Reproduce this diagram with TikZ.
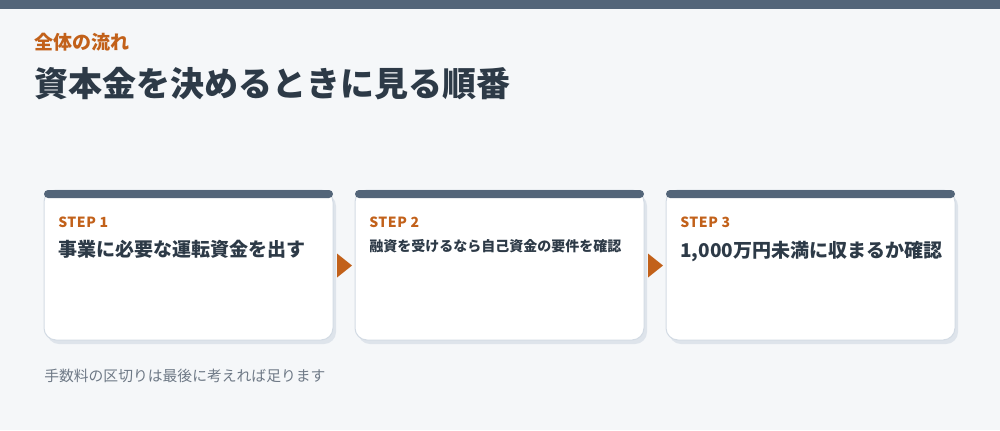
\documentclass[tikz,border=0pt]{standalone}
\usepackage{fontspec}
\setmainfont{Noto Sans CJK JP}
\newfontfamily\steplabelfont[LetterSpace=4]{Noto Sans CJK JP}
\usetikzlibrary{calc}
\definecolor{bgc}{HTML}{F5F7F9}
\definecolor{barc}{HTML}{536579}
\definecolor{orangec}{HTML}{C2611A}
\definecolor{inkc}{HTML}{2D3A47}
\definecolor{mutedc}{HTML}{6E7986}
\definecolor{linec}{HTML}{D3DBE4}
\definecolor{shadowc}{HTML}{DEE4EB}
\begin{document}
\begin{tikzpicture}[x=0.75pt,y=-0.75pt,
  cardbody/.style={draw=linec, line width=0.75pt, fill=white, rounded corners=9pt,
    minimum width=216.75pt, minimum height=112.5pt, inner sep=0pt, outer sep=0pt},
  cardshadow/.style={fill=shadowc, rounded corners=9pt,
    minimum width=216.75pt, minimum height=112.5pt, inner sep=0pt, outer sep=0pt},
  cardbar/.style={fill=barc, rounded corners=3pt, minimum width=216.75pt,
    minimum height=6pt, inner sep=0pt, outer sep=0pt, anchor=north},
  steplabel/.style={anchor=base west, inner sep=0pt,
    font=\steplabelfont\bfseries\fontsize{10.5pt}{12pt}\selectfont, text=orangec},
  headbig/.style={anchor=base west, inner sep=0pt,
    font=\bfseries\fontsize{14.25pt}{17pt}\selectfont, text=inkc},
  headsmall/.style={anchor=base west, inner sep=0pt,
    font=\bfseries\fontsize{10.5pt}{12pt}\selectfont, text=inkc},
  arrowtri/.style={fill=orangec},
]
\fill[bgc] (0,0) rectangle (1000,430);
\useasboundingbox (0,0) rectangle (1000,430);
\fill[barc] (0,0) rectangle (1000,8.5);

\node[anchor=base west, inner sep=0pt, font=\bfseries\fontsize{14.25pt}{17pt}\selectfont, text=orangec] (kicker) at (34,49.5) {全体の流れ};
\node[anchor=base west, inner sep=0pt, font=\bfseries\fontsize{25.5pt}{30pt}\selectfont, text=inkc] (title) at (34,96) {資本金を決めるときに見る順番};

% shadows
\node[cardshadow] (sh1) at (191.5,269) {};
\node[cardshadow] (sh2) at (502.5,269) {};
\node[cardshadow] (sh3) at (813.5,269) {};
% cards
\node[cardbody] (card1) at (188.5,265) {};
\node[cardbody] (card2) at (499.5,265) {};
\node[cardbody] (card3) at (810.5,265) {};
\node[cardbar] (bar1) at (card1.north) {};
\node[cardbar] (bar2) at (card2.north) {};
\node[cardbar] (bar3) at (card3.north) {};

\node[steplabel] (step1) at (58,227) {STEP 1};
\node[headbig] (head1) at (58,256.5) {事業に必要な運転資金を出す};
\node[steplabel] (step2) at (369,227) {STEP 2};
\node[headsmall] (head2) at (369,251) {融資を受けるなら自己資金の要件を確認};
\node[steplabel] (step3) at (680,227) {STEP 3};
\node[headbig] (head3) at (680,257) {1,000万円未満に収まるか確認};

% arrows between cards
\coordinate (a12) at ($(card1.east)!0.5!(card2.west)$);
\coordinate (a23) at ($(card2.east)!0.5!(card3.west)$);
\foreach \a in {a12,a23}{
  \fill[arrowtri] ([shift={(-7,-11.5)}]\a) -- ([shift={(8,0.5)}]\a) -- ([shift={(-7,12.5)}]\a) -- cycle;
}

\node[anchor=base west, inner sep=0pt, font=\fontsize{11.1pt}{13pt}\selectfont, text=mutedc] (note) at (44,381) {手数料の区切りは最後に考えれば足ります};
\end{tikzpicture}
\end{document}
